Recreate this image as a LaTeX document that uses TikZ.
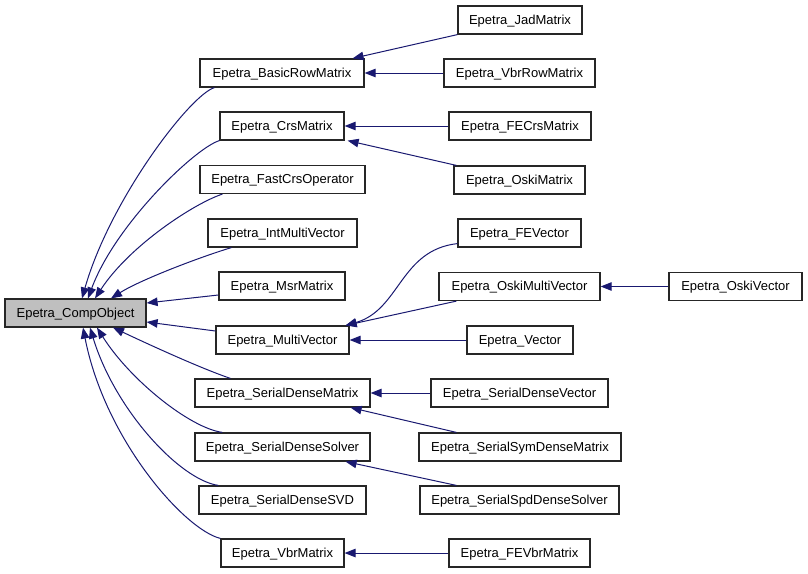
\documentclass[tikz,border=0pt]{standalone}
\usepackage{fontspec}
\setmainfont{Liberation Sans}
\usetikzlibrary{arrows.meta,calc}
\definecolor{edgeblue}{RGB}{25,25,112}
\definecolor{compgray}{RGB}{191,191,191}
\tikzset{
  box/.style={draw=black!85, line width=1.2pt, minimum height=28pt, inner sep=0pt,
    text height=9.3pt, text depth=1.3pt,
    font=\fontsize{13}{15}\selectfont, text=black},
  edge/.style={draw=edgeblue, line width=1pt,
    -{Triangle[length=11pt,width=8.5pt,fill=edgeblue]}}
}
\begin{document}
\begin{tikzpicture}[x=1pt,y=-1pt]
\useasboundingbox (0,0) rectangle (808,573);
% level 0
\node[box, fill=compgray, minimum width=141] (comp) at (75.5,313) {Epetra\_CompObject};
% level 1
\node[box, minimum width=164] (bas)  at (282,73)    {Epetra\_BasicRowMatrix};
\node[box, minimum width=124] (crs)  at (282,126)   {Epetra\_CrsMatrix};
\node[box, minimum width=165] (fast) at (282.5,179.5) {Epetra\_FastCrsOperator};
\node[box, minimum width=149] (int)  at (282.5,233) {Epetra\_IntMultiVector};
\node[box, minimum width=126] (msr)  at (282,286)   {Epetra\_MsrMatrix};
\node[box, minimum width=133] (mv)   at (282.5,340) {Epetra\_MultiVector};
\node[box, minimum width=175] (sdm)  at (282.5,393) {Epetra\_SerialDenseMatrix};
\node[box, minimum width=175] (sds)  at (282.5,447) {Epetra\_SerialDenseSolver};
\node[box, minimum width=167] (svd)  at (282.5,500) {Epetra\_SerialDenseSVD};
\node[box, minimum width=123] (vbr)  at (282.5,553) {Epetra\_VbrMatrix};
% level 2
\node[box, minimum width=124] (jad)   at (520,20)     {Epetra\_JadMatrix};
\node[box, minimum width=151] (vrr)   at (519.5,73)   {Epetra\_VbrRowMatrix};
\node[box, minimum width=142] (fecrs) at (520,126)    {Epetra\_FECrsMatrix};
\node[box, minimum width=131] (oski)  at (519.5,180)  {Epetra\_OskiMatrix};
\node[box, minimum width=123] (fev)   at (519.5,233)  {Epetra\_FEVector};
\node[box, minimum width=161] (omv)   at (519.5,286.5) {Epetra\_OskiMultiVector};
\node[box, minimum width=106] (vec)   at (520,340)    {Epetra\_Vector};
\node[box, minimum width=177] (sdv)   at (519.5,393)  {Epetra\_SerialDenseVector};
\node[box, minimum width=202] (ssym)  at (520,447)    {Epetra\_SerialSymDenseMatrix};
\node[box, minimum width=199] (sspd)  at (519.5,500)  {Epetra\_SerialSpdDenseSolver};
\node[box, minimum width=141] (fevbr) at (519.5,553)  {Epetra\_FEVbrMatrix};
% level 3
\node[box, minimum width=133] (ov)    at (735.5,286.5) {Epetra\_OskiVector};
% edges to CompObject
\draw[edge] ($(bas.south west)+(15,0)$) .. controls (190,95) and (110,200) .. ($(comp.north)+(6.5,0)$);
\draw[edge] (crs.south west) .. controls (195,148) and (115,225) .. ($(comp.north)+(12.5,0)$);
\draw[edge] ($(fast.south west)+(23,0)$) .. controls (195,203) and (130,245) .. ($(comp.north)+(19.5,0)$);
\draw[edge] ($(int.south west)+(24,0)$) .. controls (200,257) and (140,280) .. ($(comp.north)+(35.5,0)$);
\draw[edge] ($(msr.west)+(0,9)$) -- ($(comp.east)+(0,-10)$);
\draw[edge] ($(mv.west)+(0,-9)$) -- ($(comp.east)+(0,9)$);
\draw[edge] ($(sdm.north west)+(36,0)$) .. controls (200,368) and (150,345) .. ($(comp.south)+(37.5,0)$);
\draw[edge] ($(sds.north west)+(28,0)$) .. controls (190,428) and (130,380) .. ($(comp.south)+(21.5,0)$);
\draw[edge] ($(svd.north west)+(20,0)$) .. controls (180,480) and (115,410) .. ($(comp.south)+(14.5,0)$);
\draw[edge] (vbr.north west) .. controls (185,530) and (105,440) .. ($(comp.south)+(7.5,0)$);
% level 2 edges
\draw[edge] (jad.south west) -- ($(bas.north east)+(-12,0)$);
\draw[edge] (vrr.west) -- (bas.east);
\draw[edge] (fecrs.west) -- (crs.east);
\draw[edge] ($(oski.north west)+(3,0)$) -- ($(crs.south east)+(3,0)$);
\draw[edge] ($(fev.south west)+(0,-4)$) .. controls (400,250) and (400,310) .. ($(mv.north east)+(-4,0)$);
\draw[edge] ($(omv.south west)+(18,0)$) -- ($(mv.north east)+(-4,0)$);
\draw[edge] (vec.west) -- (mv.east);
\draw[edge] (sdv.west) -- (sdm.east);
\draw[edge] ($(ssym.north west)+(38,0)$) -- ($(sdm.south east)+(-20,0)$);
\draw[edge] ($(sspd.north west)+(37,0)$) -- ($(sds.south east)+(-25,0)$);
\draw[edge] (fevbr.west) -- (vbr.east);
\draw[edge] (ov.west) -- (omv.east);
\end{tikzpicture}
\end{document}
